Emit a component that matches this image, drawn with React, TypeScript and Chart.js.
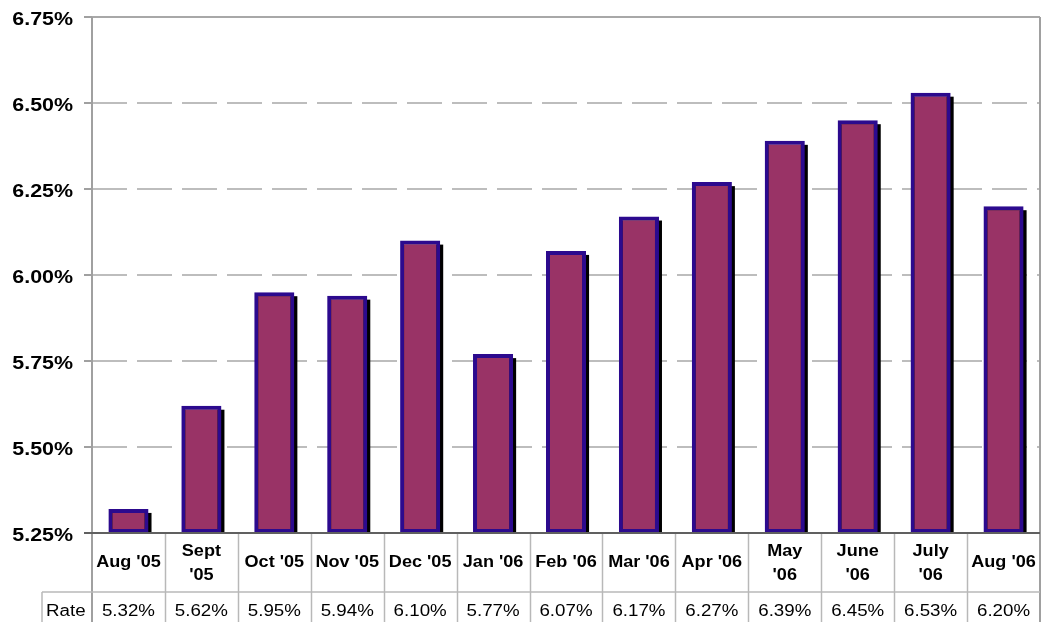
import React, { useEffect, useRef } from "react";
import { Chart, registerables } from "chart.js";

Chart.register(...registerables);

const categories: string[][] = [
  ["Aug '05"],
  ["Sept", "'05"],
  ["Oct '05"],
  ["Nov '05"],
  ["Dec '05"],
  ["Jan '06"],
  ["Feb '06"],
  ["Mar '06"],
  ["Apr '06"],
  ["May", "'06"],
  ["June", "'06"],
  ["July", "'06"],
  ["Aug '06"],
];
const rates: number[] = [5.32, 5.62, 5.95, 5.94, 6.1, 5.77, 6.07, 6.17, 6.27, 6.39, 6.45, 6.53, 6.2];
const rateLabels: string[] = ["5.32%", "5.62%", "5.95%", "5.94%", "6.10%", "5.77%", "6.07%", "6.17%", "6.27%", "6.39%", "6.45%", "6.53%", "6.20%"];
const seriesName = "Rate";
const yTicks: number[] = [5.25, 5.5, 5.75, 6.0, 6.25, 6.5, 6.75];
const yTickLabels: string[] = ["5.25%", "5.50%", "5.75%", "6.00%", "6.25%", "6.50%", "6.75%"];

const FONT = "'Liberation Sans', Arial, Helvetica, sans-serif";

function stretchedText(ctx: CanvasRenderingContext2D, text: string, x: number, y: number, align: "left" | "right" | "center", sx: number) {
  ctx.save();
  ctx.translate(x, y);
  ctx.scale(sx, 1);
  ctx.textAlign = align;
  ctx.textBaseline = "alphabetic";
  ctx.fillText(text, 0, 0);
  ctx.restore();
}

const decorPlugin = {
  id: "decor",
  beforeDatasetsDraw(chart: any) {
    const ctx: CanvasRenderingContext2D = chart.ctx;
    const { left, right, top, bottom } = chart.chartArea;
    const yScale = chart.scales.y;
    ctx.save();
    // gridlines
    yTicks.forEach((v, i) => {
      const py = Math.round(yScale.getPixelForValue(v));
      if (i === 0) return;
      ctx.strokeStyle = "#bdbdbd";
      ctx.lineWidth = 2;
      if (i === yTicks.length - 1) {
        ctx.strokeStyle = "#a8a8a8";
        ctx.setLineDash([]);
      } else {
        ctx.setLineDash([35, 10]);
      }
      ctx.beginPath();
      ctx.moveTo(left, py);
      ctx.lineTo(right, py);
      ctx.stroke();
    });
    ctx.setLineDash([]);
    // bar shadows
    const meta = chart.getDatasetMeta(0);
    ctx.fillStyle = "#000000";
    meta.data.forEach((el: any) => {
      const p = el.getProps(["x", "y", "base", "width"], true);
      const b = Math.min(p.base, bottom);
      ctx.fillRect(p.x - p.width / 2 + 3, p.y + 4, p.width, b - p.y - 4);
    });
    ctx.restore();
  },
  afterDatasetsDraw(chart: any) {
    const ctx: CanvasRenderingContext2D = chart.ctx;
    const { left, right, top, bottom } = chart.chartArea;
    const yScale = chart.scales.y;
    const xScale = chart.scales.x;
    const H = chart.height;
    const n = categories.length;
    const colW = (right - left) / n;
    ctx.save();
    ctx.setLineDash([]);
    // tick marks
    ctx.strokeStyle = "#a0a0a0";
    ctx.lineWidth = 2;
    yTicks.forEach((v) => {
      const py = Math.round(yScale.getPixelForValue(v));
      ctx.beginPath();
      ctx.moveTo(left - 8, py);
      ctx.lineTo(left, py);
      ctx.stroke();
    });
    // right border
    ctx.beginPath();
    ctx.moveTo(right, top);
    ctx.lineTo(right, H);
    ctx.stroke();
    // left axis
    ctx.beginPath();
    ctx.moveTo(left, top);
    ctx.lineTo(left, H);
    ctx.stroke();
    // table separators
    ctx.strokeStyle = "#b8b8b8";
    ctx.lineWidth = 1.5;
    for (let i = 1; i < n; i++) {
      const x = Math.round(left + colW * i) + 0.5;
      ctx.beginPath();
      ctx.moveTo(x, bottom);
      ctx.lineTo(x, H);
      ctx.stroke();
    }
    const rowY = 592;
    ctx.beginPath();
    ctx.moveTo(42, rowY);
    ctx.lineTo(right, rowY);
    ctx.stroke();
    ctx.beginPath();
    ctx.moveTo(42, rowY);
    ctx.lineTo(42, H);
    ctx.stroke();
    // bottom axis
    ctx.strokeStyle = "#606060";
    ctx.lineWidth = 2;
    ctx.beginPath();
    ctx.moveTo(left - 8, bottom);
    ctx.lineTo(right, bottom);
    ctx.stroke();
    // y tick labels
    ctx.fillStyle = "#000000";
    ctx.font = `bold 18px ${FONT}`;
    yTicks.forEach((v, i) => {
      const py = yScale.getPixelForValue(v);
      stretchedText(ctx, yTickLabels[i], 73, py + 7.5, "right", 1.19);
    });
    // category labels
    ctx.font = `bold 16px ${FONT}`;
    categories.forEach((lines, i) => {
      const cx = xScale.getPixelForValue(i);
      if (lines.length === 1) {
        stretchedText(ctx, lines[0], cx, 567, "center", 1.13);
      } else {
        stretchedText(ctx, lines[0], cx, 556, "center", 1.13);
        stretchedText(ctx, lines[1], cx, 580, "center", 1.13);
      }
    });
    // rate row
    ctx.font = `16px ${FONT}`;
    stretchedText(ctx, seriesName, 46, 616, "left", 1.17);
    rateLabels.forEach((t, i) => {
      const cx = xScale.getPixelForValue(i);
      stretchedText(ctx, t, cx, 616, "center", 1.17);
    });
    ctx.restore();
  },
};

export default function App() {
  const canvasRef = useRef<HTMLCanvasElement | null>(null);

  useEffect(() => {
    document.body.style.margin = "0";
    const canvas = canvasRef.current;
    if (!canvas) return;
    const chart = new Chart(canvas, {
      type: "bar",
      data: {
        labels: categories.map((c) => c.join(" ")),
        datasets: [
          {
            label: seriesName,
            data: rates,
            base: 5.25,
            backgroundColor: "#993366",
            borderColor: "#2c0a8e",
            borderWidth: 4,
            borderSkipped: false,
            barPercentage: 0.55,
            categoryPercentage: 1,
          } as any,
        ],
      },
      options: {
        responsive: false,
        maintainAspectRatio: false,
        animation: false,
        devicePixelRatio: 1,
        layout: { padding: { left: 0, top: 17, right: 9, bottom: 89 } },
        plugins: {
          legend: { display: false },
          tooltip: { enabled: false },
          title: { display: false },
        },
        scales: {
          x: {
            type: "category",
            display: false,
            offset: true,
            grid: { display: false },
          },
          y: {
            type: "linear",
            min: 5.25,
            max: 6.75,
            ticks: { display: false, stepSize: 0.25 },
            grid: { display: false },
            border: { display: false },
            afterFit: (scale: any) => {
              scale.width = 92;
            },
          },
        },
      },
      plugins: [decorPlugin],
    });
    return () => chart.destroy();
  }, []);

  return (
    <div style={{ position: "absolute", left: 0, top: 0, width: 1049, height: 622, background: "#ffffff" }}>
      <canvas ref={canvasRef} width={1049} height={622} style={{ display: "block", width: 1049, height: 622 }} />
    </div>
  );
}
